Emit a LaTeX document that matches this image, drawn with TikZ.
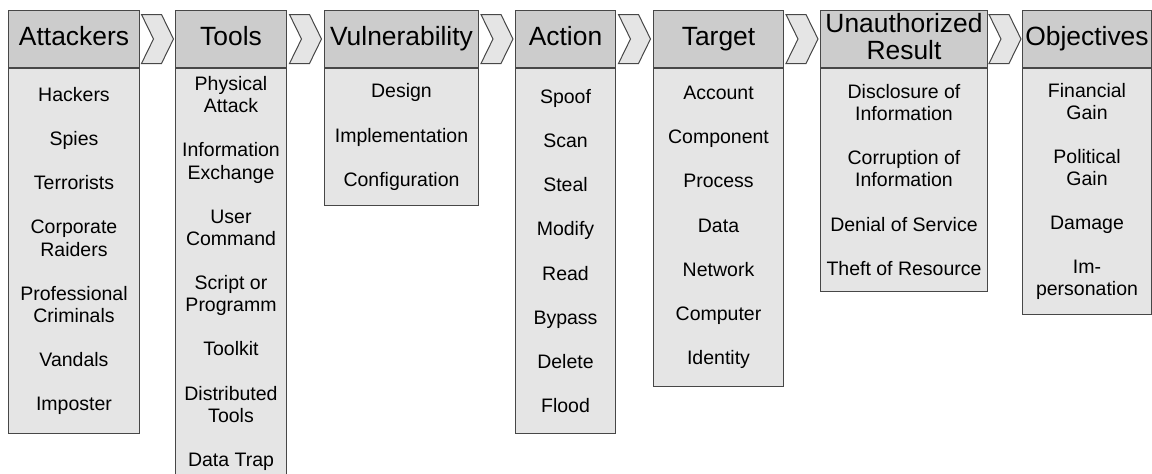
\documentclass[tikz,border=0pt]{standalone}
\usepackage{fontspec}
\setmainfont{Liberation Sans}
\usetikzlibrary{calc}

\definecolor{headgray}{gray}{0.8}
\definecolor{bodygray}{gray}{0.9}
\definecolor{edgegray}{gray}{0.28}

\newcommand{\nxt}{\\[22.1pt]}

\tikzset{
  colhead/.style={draw=edgegray, fill=headgray, line width=1pt, anchor=north west,
    inner sep=1pt, minimum height=57pt, align=center, text depth=5.5pt,
    font=\fontsize{26.4}{27}\selectfont},
  colbody/.style={draw=edgegray, fill=bodygray, line width=1pt, anchor=north west,
    inner sep=1pt, align=center, font=\fontsize{19.5}{22.1}\selectfont},
  chevron/.style={draw=edgegray, fill=bodygray, line width=1pt, line join=miter},
}

\begin{document}
\begin{tikzpicture}[x=1pt,y=-1pt]
  \useasboundingbox (0,0) rectangle (1152,474);
  % 見出しの描画
  \node[colhead, minimum width=131pt] (hAtt) at (8,10) {Attackers};
  \node[colhead, minimum width=111pt] (hToo) at (175,10) {Tools};
  \node[colhead, minimum width=154pt] (hVul) at (324,10) {Vulnerability};
  \node[colhead, minimum width=100pt] (hAct) at (515,10) {Action};
  \node[colhead, minimum width=130pt] (hTar) at (653,10) {Target};
  \node[colhead, minimum width=167pt] (hRes) at (820,10) {Unauthorized\\Result};
  \node[colhead, minimum width=129pt] (hObj) at (1022,10) {Objectives};
  % 項目の描画
  \node[colbody, minimum width=131pt, minimum height=365pt] (bAtt) at (hAtt.south west)
    {Hackers\nxt Spies\nxt Terrorists\nxt Corporate\\Raiders\nxt
     Professional\\Criminals\nxt Vandals\nxt Imposter};
  \node[colbody, minimum width=111pt, minimum height=410pt] (bToo) at (hToo.south west)
    {Physical\\Attack\nxt Information\\Exchange\nxt User\\Command\nxt
     Script or\\Programm\nxt Toolkit\nxt Distributed\\Tools\nxt Data Trap};
  \node[colbody, minimum width=154pt, minimum height=137pt] (bVul) at (hVul.south west)
    {Design\nxt Implementation\nxt Configuration};
  \node[colbody, minimum width=100pt, minimum height=365pt] (bAct) at (hAct.south west)
    {Spoof\nxt Scan\nxt Steal\nxt Modify\nxt Read\nxt Bypass\nxt Delete\nxt Flood};
  \node[colbody, minimum width=130pt, minimum height=318pt] (bTar) at (hTar.south west)
    {Account\nxt Component\nxt Process\nxt Data\nxt Network\nxt Computer\nxt Identity};
  \node[colbody, minimum width=167pt, minimum height=223pt] (bRes) at (hRes.south west)
    {Disclosure of\\Information\nxt Corruption of\\Information\nxt
     Denial of Service\nxt Theft of Resource};
  \node[colbody, minimum width=129pt, minimum height=246pt] (bObj) at (hObj.south west)
    {Financial\\Gain\nxt Political\\Gain\nxt Damage\nxt Im-\\personation};
  % 矢印の描画
  \foreach \a/\b in {hAtt/hToo, hToo/hVul, hVul/hAct, hAct/hTar, hTar/hRes, hRes/hObj} {
    \coordinate (mid) at ($(\a.east)!0.5!(\b.west)$);
    \draw[chevron] ($(mid)+(-16,-24.5)$) -- ++(20,0) -- ++(12,24.5) -- ++(-12,24.5)
      -- ++(-20,0) -- ++(12,-24.5) -- cycle;
  }
\end{tikzpicture}
\end{document}
